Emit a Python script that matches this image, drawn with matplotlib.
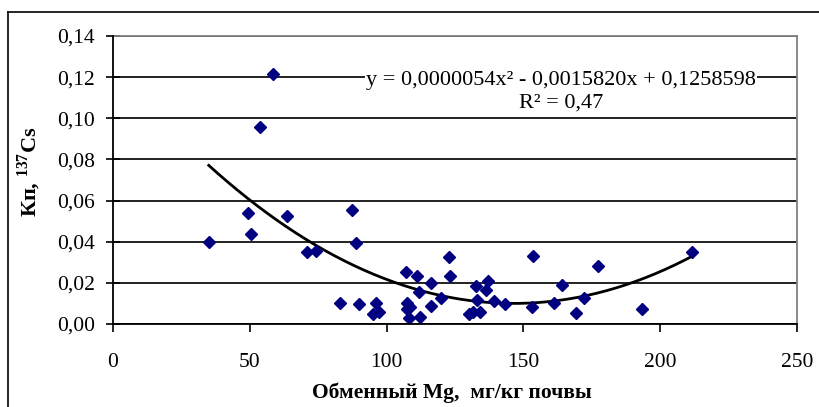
import numpy as np
import matplotlib
matplotlib.use('Agg')
import matplotlib.pyplot as plt
from matplotlib.lines import Line2D

plt.rcParams['font.family'] = ['Liberation Serif', 'DejaVu Serif']
plt.rcParams['mathtext.fontset'] = 'custom'
plt.rcParams['mathtext.rm'] = 'Liberation Serif'
plt.rcParams['mathtext.bf'] = 'Liberation Serif:bold'

# обменный Mg (мг/кг) и Кп 137Cs
mg = [35.0, 49.5, 50.4, 53.7, 58.6, 63.7, 70.8, 74.2, 83.0, 87.5,
      88.7, 90.0, 95.1, 96.0, 97.2, 107.1, 107.3, 107.5, 108.2, 108.5,
      111.2, 112.0, 112.2, 116.1, 116.1, 119.8, 122.9, 123.2, 130.1, 131.7,
      132.7, 133.2, 134.1, 136.3, 137.2, 139.3, 143.3, 153.3, 153.5, 161.2,
      164.2, 169.2, 172.3, 177.4, 193.5, 211.5]
kp = [0.0397, 0.0541, 0.0436, 0.0956, 0.1216, 0.0525, 0.0348, 0.0355, 0.0101, 0.0554,
      0.0395, 0.0097, 0.0047, 0.0104, 0.0057, 0.0254, 0.0101, 0.0073, 0.0028, 0.0084,
      0.0235, 0.0155, 0.0036, 0.0198, 0.0089, 0.0125, 0.0327, 0.0235, 0.0049, 0.0060,
      0.0185, 0.0117, 0.0060, 0.0165, 0.0209, 0.0110, 0.0097, 0.0084, 0.0330, 0.0101,
      0.0190, 0.0055, 0.0125, 0.0280, 0.0075, 0.0348]

# коэффициенты линии тренда (с подписи)
a, b, c = 0.0000054, -0.0015820, 0.1258598

xticks = [0, 50, 100, 150, 200, 250]
yticks = [0.00, 0.02, 0.04, 0.06, 0.08, 0.10, 0.12, 0.14]

fig = plt.figure(figsize=(8.2, 4.07), dpi=100)
ax = fig.add_axes([0.1378, 0.204, 0.8342, 0.7075])

xs = np.linspace(min(mg), max(mg), 200)
ax.plot(xs, a * xs**2 + b * xs + c, color='black', lw=2, zorder=3)
ax.plot(mg, kp, 'D', color='#000080', markersize=6.5, ls='none', zorder=4)

ax.set_xlim(0, 250)
ax.set_ylim(0, 0.14)
ax.set_xticks(xticks)
ax.set_yticks(yticks)
ax.set_xticklabels([str(t) for t in xticks], fontsize=15.5)
ax.set_yticklabels([('%.2f' % t).replace('.', ',') for t in yticks], fontsize=15.5)
ax.tick_params(axis='y', direction='inout', length=10, width=1.2, pad=8)
ax.tick_params(axis='x', direction='out', length=6, width=1.2, pad=15)
ax.yaxis.grid(True, color='#222222', lw=1.4)
ax.set_axisbelow(True)
for s in ['left', 'bottom']:
    ax.spines[s].set_linewidth(1.3)
    ax.spines[s].set_zorder(5)
for s in ['top', 'right']:
    ax.spines[s].set_color('#808080')
    ax.spines[s].set_linewidth(1.3)

ax.text(163.7, 0.1186, 'y = 0,0000054x² - 0,0015820x + 0,1258598', ha='center', va='center',
        fontsize=16, zorder=6, bbox=dict(facecolor='white', edgecolor='none', pad=1))
ax.text(163.7, 0.1074, 'R² = 0,47', ha='center', va='center', fontsize=16, zorder=6)

fig.text(0.036, 1 - 172 / 407, r'Кп, $^{\mathbf{137}}$Cs', rotation=90, ha='center', va='center',
         fontsize=16, fontweight='bold')
fig.text(452 / 820, 1 - 393 / 407, 'Обменный Mg,  мг/кг почвы', ha='center', va='center',
         fontsize=15.5, fontweight='bold')

# рамка диаграммы
fig.add_artist(Line2D([8 / 820, 1], [1 - 12 / 407, 1 - 12 / 407], color='black', lw=1.2))
fig.add_artist(Line2D([8 / 820, 8 / 820], [0, 1 - 12 / 407], color='black', lw=1.2))

fig.savefig('out.png', dpi=100)
